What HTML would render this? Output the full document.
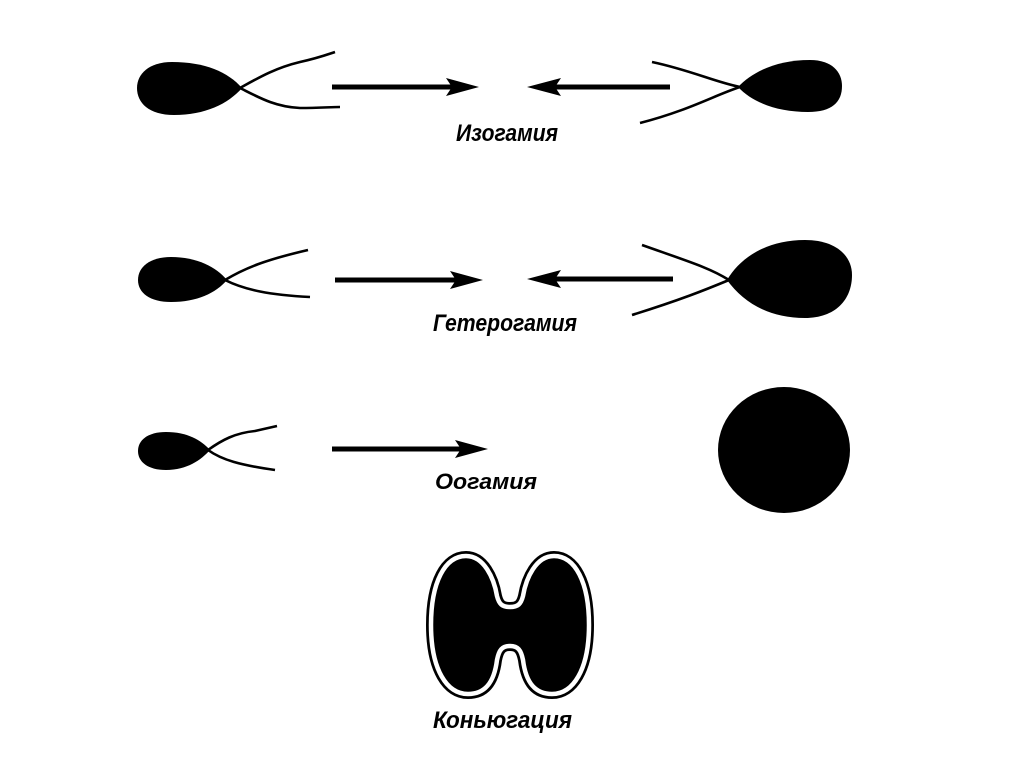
<!DOCTYPE html>
<html>
<head>
<meta charset="utf-8">
<style>
  html, body { margin: 0; padding: 0; background: #fff; }
  body { width: 1024px; height: 767px; overflow: hidden; }
  svg { display: block; }
  .lbl { font-family: "Liberation Sans", "DejaVu Sans", sans-serif; font-style: italic; font-weight: bold; fill: #000; }
</style>
</head>
<body>
<svg width="1024" height="767" viewBox="0 0 1024 767" xmlns="http://www.w3.org/2000/svg">
  <rect width="1024" height="767" fill="#fff"/>

  <!-- Row 1: Isogamy -->
  <path d="M242,88 C228,72 205,62 172,62 C149,62 137,74 137,88 C137,103 149,115 174,115 C205,115 228,104 242,88 Z" fill="#000"/>
  <path d="M240,88 C258,78 275,68 300,62 C318,58 326,55 335,52" fill="none" stroke="#000" stroke-width="2.6"/>
  <path d="M240,88 C258,97 275,107 300,108 C320,108 330,107 340,107" fill="none" stroke="#000" stroke-width="2.6"/>

  <line x1="332" y1="87" x2="456" y2="87" stroke="#000" stroke-width="5"/>
  <polygon points="479,87 446,78 452,87 446,96" fill="#000"/>

  <line x1="550" y1="87" x2="670" y2="87" stroke="#000" stroke-width="5"/>
  <polygon points="527,87 561,78 555,87 561,96" fill="#000"/>

  <path d="M738,87 C753,71 778,60 810,60 C832,60 842,72 842,86 C842,102 832,112 808,112 C778,112 753,103 738,87 Z" fill="#000"/>
  <path d="M740,87 C715,82 690,70 652,62" fill="none" stroke="#000" stroke-width="2.6"/>
  <path d="M740,87 C715,95 690,110 640,123" fill="none" stroke="#000" stroke-width="2.6"/>

  <text class="lbl" x="456" y="141" font-size="24" textLength="102" lengthAdjust="spacingAndGlyphs">Изогамия</text>

  <!-- Row 2: Heterogamy -->
  <path d="M227,280 C216,267 197,257 171,257 C150,257 138,267 138,280 C138,293 150,302 171,302 C197,302 216,293 227,280 Z" fill="#000"/>
  <path d="M225,280 C245,268 265,260 308,250" fill="none" stroke="#000" stroke-width="2.6"/>
  <path d="M225,280 C245,290 270,295 310,297" fill="none" stroke="#000" stroke-width="2.6"/>

  <line x1="335" y1="280" x2="460" y2="280" stroke="#000" stroke-width="5"/>
  <polygon points="483,280 450,271 456,280 450,289" fill="#000"/>

  <line x1="550" y1="279" x2="673" y2="279" stroke="#000" stroke-width="5"/>
  <polygon points="527,279 561,270 555,279 561,288" fill="#000"/>

  <path d="M727,280 C740,258 766,240 805,240 C835,240 852,255 852,275 C852,300 835,318 805,318 C768,318 743,302 727,280 Z" fill="#000"/>
  <path d="M729,280 C710,268 690,262 642,245" fill="none" stroke="#000" stroke-width="2.6"/>
  <path d="M729,280 C705,290 680,300 632,315" fill="none" stroke="#000" stroke-width="2.6"/>

  <text class="lbl" x="433" y="331" font-size="24" textLength="144" lengthAdjust="spacingAndGlyphs">Гетерогамия</text>

  <!-- Row 3: Oogamy -->
  <path d="M210,450 C201,440 187,432 166,432 C148,432 138,440 138,451 C138,462 148,470 166,470 C187,470 201,460 210,450 Z" fill="#000"/>
  <path d="M208,450 C222,440 235,433 255,431 L277,426" fill="none" stroke="#000" stroke-width="2.6"/>
  <path d="M208,450 C222,460 240,465 275,470" fill="none" stroke="#000" stroke-width="2.6"/>

  <line x1="332" y1="449" x2="464" y2="449" stroke="#000" stroke-width="5"/>
  <polygon points="488,449 455,440 461,449 455,458" fill="#000"/>

  <ellipse cx="784" cy="450" rx="66" ry="63" fill="#000"/>

  <text class="lbl" x="435" y="489" font-size="22" textLength="102" lengthAdjust="spacingAndGlyphs">Оогамия</text>

  <!-- Conjugation -->
  <path d="M510,607 C502,607 499,604 497,596 C494,578 484,556 466,556 C445,556 431,582 431,625 C431,670 447,694 468,694 C484,694 494,684 497,660 C499,650 502,646 510,646 C518,646 521,650 523,660 C526,684 536,694 552,694 C573,694 589,670 589,625 C589,582 575,556 554,556 C536,556 526,578 523,596 C521,604 518,607 510,607 Z" fill="#000" stroke="#000" stroke-width="10"/>
  <path d="M510,607 C502,607 499,604 497,596 C494,578 484,556 466,556 C445,556 431,582 431,625 C431,670 447,694 468,694 C484,694 494,684 497,660 C499,650 502,646 510,646 C518,646 521,650 523,660 C526,684 536,694 552,694 C573,694 589,670 589,625 C589,582 575,556 554,556 C536,556 526,578 523,596 C521,604 518,607 510,607 Z" fill="none" stroke="#fff" stroke-width="4.5"/>

  <text class="lbl" x="433" y="728" font-size="24" textLength="139" lengthAdjust="spacingAndGlyphs">Коньюгация</text>
</svg>
</body>
</html>
